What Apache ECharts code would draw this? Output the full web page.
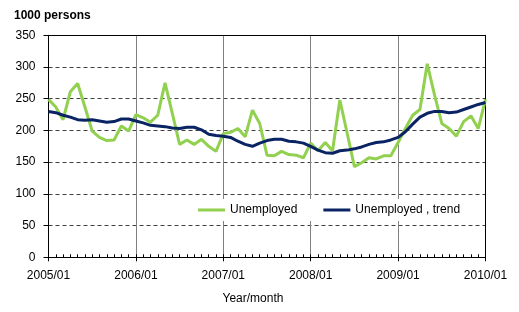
<!DOCTYPE html>
<html><head><meta charset="utf-8">
<script src="https://cdn.jsdelivr.net/npm/echarts@6/dist/echarts.min.js"></script>
<style>html,body{margin:0;padding:0;background:#fff}#c{width:519px;height:312px}</style>
</head><body><div id="c"></div>
<script>
const months = [];
for (let y = 2005; y <= 2010; y++) {
  for (let m = 1; m <= 12; m++) {
    if (y === 2010 && m > 1) break;
    months.push(y + '/' + String(m).padStart(2, '0'));
  }
}
const unemployed = [
  249, 237, 217, 261, 274, 237, 199, 189, 184, 185, 207, 199,
  225, 220, 213, 224, 275, 227, 178, 185, 178, 186, 175, 167,
  195, 197, 203, 190, 232, 211, 161, 160, 167, 162, 161, 157,
  180, 168, 181, 168, 248, 196, 143, 149, 157, 155, 160, 160,
  181, 203, 224, 233, 305, 256, 211, 203, 191, 214, 223, 203,
  249
];
const trend = [
  230, 228, 224, 221, 217, 216, 217, 215, 213, 214, 218, 218,
  215, 212, 208, 207, 206, 204, 203, 205, 205, 201, 194, 192,
  191, 189, 183, 178, 175, 180, 184, 186, 186, 183, 182, 180,
  175, 169, 165, 164, 168, 169, 171, 174, 178, 181, 182, 185,
  189, 198, 210, 221, 227, 230, 230, 228, 229, 233, 237, 241,
  244
];
const seriesNames = ['Unemployed', 'Unemployed , trend'];
const yTitle = '1000 persons';
const xTitle = 'Year/month';

const FONT = "'Liberation Sans', Arial, sans-serif";
const chart = echarts.init(document.getElementById('c'), null, {renderer: 'canvas'});
chart.setOption({
  animation: false,
  textStyle: {fontFamily: FONT},
  title: {
    text: yTitle, left: 9, top: 5,
    textStyle: {fontFamily: FONT, fontSize: 12, fontWeight: 'bold', color: '#000'}
  },
  grid: {left: 48.5, right: 33.5, top: 35.3, bottom: 54.7, containLabel: false},
  legend: {
    data: seriesNames, left: 195, top: 199, orient: 'horizontal',
    backgroundColor: '#fff', padding: [5, 3, 5, 3],
    icon: 'rect', itemWidth: 27, itemHeight: 3, itemGap: 26,
    textStyle: {fontFamily: FONT, fontSize: 12, color: '#000'}
  },
  xAxis: [
    {
      type: 'category', data: months, boundaryGap: false, position: 'bottom',
      axisLine: {show: true, lineStyle: {color: '#000', width: 1}},
      axisTick: {show: true, interval: 11, length: 4, inside: false, lineStyle: {color: '#000'}},
      axisLabel: {interval: 11, margin: 12, fontSize: 12, color: '#000', fontFamily: FONT},
      splitLine: {
        show: true,
        interval: function (i) { return i % 12 === 0 && i !== 0 && i !== 60; },
        lineStyle: {color: '#808080', width: 1, type: 'solid'}
      },
      name: xTitle, nameLocation: 'middle', nameGap: 35,
      nameTextStyle: {fontSize: 12, color: '#000', fontFamily: FONT, padding: [0, 28, 0, 0]}
    },
    {
      type: 'category', data: months, boundaryGap: false, position: 'bottom',
      axisLine: {show: false},
      axisTick: {show: true, interval: 0, length: 3, inside: true, lineStyle: {color: '#000'}},
      axisLabel: {show: false}, splitLine: {show: false}
    },
    {
      type: 'category', data: months, boundaryGap: false, position: 'top',
      axisLine: {show: true, lineStyle: {color: '#000', width: 1}},
      axisTick: {show: false}, axisLabel: {show: false}, splitLine: {show: false}
    }
  ],
  yAxis: [
    {
      type: 'value', min: 0, max: 350, interval: 50, position: 'left',
      axisLine: {show: true, lineStyle: {color: '#000', width: 1}},
      axisTick: {show: true, length: 5, inside: false, lineStyle: {color: '#000'}},
      axisLabel: {margin: 13, fontSize: 12, color: '#000', fontFamily: FONT},
      splitLine: {show: true, lineStyle: {color: '#404040', width: 1, type: [4, 3]}}
    },
    {
      type: 'value', min: 0, max: 350, interval: 50, position: 'right',
      axisLine: {show: true, lineStyle: {color: '#000', width: 1}},
      axisTick: {show: false}, axisLabel: {show: false}, splitLine: {show: false}
    }
  ],
  series: [
    {
      name: seriesNames[0], type: 'line', data: unemployed, xAxisIndex: 0, yAxisIndex: 0,
      symbol: 'none', showSymbol: false, smooth: false,
      lineStyle: {color: '#92d050', width: 3}, itemStyle: {color: '#92d050'}
    },
    {
      name: seriesNames[1], type: 'line', data: trend, xAxisIndex: 0, yAxisIndex: 0,
      symbol: 'none', showSymbol: false, smooth: false,
      lineStyle: {color: '#0a2463', width: 3}, itemStyle: {color: '#0a2463'}
    }
  ]
});
</script></body></html>
